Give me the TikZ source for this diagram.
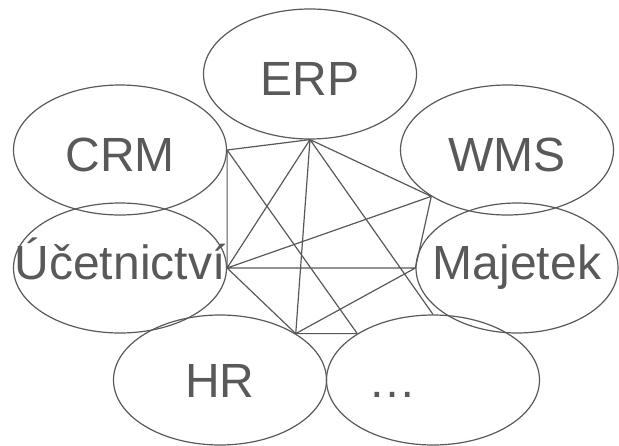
\documentclass[tikz,border=0pt]{standalone}
\usepackage{fontspec}
\setmainfont{Liberation Sans}
\usetikzlibrary{shapes.geometric}
\newcommand{\sysname}[1]{\makebox[0pt]{#1}}

\begin{document}
\begin{tikzpicture}[x=1pt,y=-1pt,
    sys/.style={ellipse,draw=linegray,line width=1.2pt,inner sep=0pt,
      minimum width=213pt,minimum height=130pt,text=linegray,
      font=\fontsize{48}{58}\selectfont,text height=34.4pt,text depth=0pt},
    toprow/.style={text height=42pt},
    midrow/.style={text depth=12pt}]
        \definecolor{linegray}{HTML}{595959}
        \useasboundingbox (0,0) rectangle (619,445);
        \clip (0,0) rectangle (619,445);
        \node [sys,toprow] (erp) at (310,74) {\sysname{ERP}};
        \node [sys,toprow] (crm) at (120,150) {\sysname{CRM}};
        \node [sys,toprow] (wms) at (507,150) {\sysname{WMS}};
        \node [sys,midrow] (ucto) at (120,268) {\sysname{Účetnictví}};
        \node [sys,midrow,minimum width=202pt] (majetek) at (517,268) {\sysname{Majetek}};
        \node [sys] (hr) at (220,380) {\sysname{HR}};
        \node [sys] (dalsi) at (433,380) {\sysname{\dots\hspace{82pt}}};
        \draw [linegray,line width=1.2pt]
          (crm.east) -- (erp.south)
          (crm.east) -- (ucto.east)
          (crm.east) -- (dalsi.north west)
          (erp.south) -- (ucto.east)
          (erp.south) -- (hr.north east)
          (erp.south) -- (wms.south west)
          (erp.south) -- (dalsi.north)
          (ucto.east) -- (wms.south west)
          (ucto.east) -- (majetek.west)
          (ucto.east) -- (hr.north east)
          (wms.south west) -- (majetek.west)
          (majetek.west) -- (hr.north east)
          (hr.north east) -- (dalsi.north west);
      \end{tikzpicture}
\end{document}
